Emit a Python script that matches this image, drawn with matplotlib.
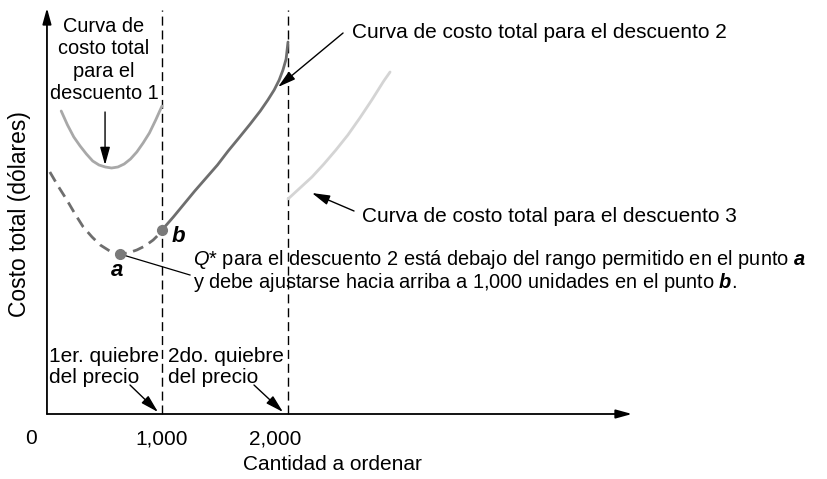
import matplotlib
matplotlib.use("Agg")
import matplotlib.pyplot as plt

plt.rcParams['font.family'] = ['Liberation Sans', 'DejaVu Sans']
plt.rcParams['mathtext.fontset'] = 'custom'
plt.rcParams['mathtext.rm'] = 'Liberation Sans'
plt.rcParams['mathtext.it'] = 'Liberation Sans:italic'
plt.rcParams['mathtext.bf'] = 'Liberation Sans:bold'
plt.rcParams['mathtext.bfit'] = 'Liberation Sans:bold:italic'

# ---- data (quantity, total cost) ----
d1_q = [200, 250, 300, 350, 400, 450, 500, 550, 600, 650, 700, 750, 800, 850, 900, 950, 1000]
d1_cost = [3030, 2890, 2770, 2680, 2600, 2530, 2490, 2470, 2460, 2470, 2500, 2550, 2620,
           2710, 2810, 2940, 3080]

d2_dash_q = [110, 175, 245, 310, 375, 445, 510, 585, 665, 730, 800, 865, 930, 970, 1000]
d2_dash_cost = [2420, 2280, 2140, 2000, 1870, 1770, 1690, 1630, 1600, 1610, 1640, 1680,
                1740, 1790, 1840]

d2_q = [1000, 1090, 1175, 1260, 1350, 1440, 1525, 1610, 1700, 1780, 1840, 1890, 1930,
        1960, 1985, 2000]
d2_cost = [1840, 1970, 2100, 2230, 2360, 2490, 2630, 2760, 2900, 3030, 3140, 3240, 3340,
           3440, 3550, 3720]

d3_q = [2000, 2095, 2190, 2285, 2380, 2475, 2570, 2665, 2760, 2810]
d3_cost = [2150, 2260, 2370, 2500, 2640, 2790, 2960, 3140, 3330, 3420]

point_a = (665, 1600)
point_b = (1000, 1840)

price_breaks = [1000, 2000]
tick_values = [0, 1000, 2000]
tick_labels = ['0', '1,000', '2,000']

# ---- figure ----
fig = plt.figure(figsize=(8.28, 4.79), dpi=100)
ax = fig.add_axes([0, 0, 1, 1])
ax.set_xlim(-285.7, 6285.7)
ax.set_ylim(-650, 4140)
ax.axis('off')

FS = 15
Y_AX = 87      # y-axis position in quantity units
X_END = 4730
Y_TOP = 4060

axis_arrow = dict(arrowstyle='-|>,head_length=0.8,head_width=0.22',
                  color='black', lw=1.3, shrinkA=0, shrinkB=0, mutation_scale=12)
ax.annotate('', xy=(Y_AX, Y_TOP), xytext=(Y_AX, 0), arrowprops=axis_arrow)
ax.annotate('', xy=(X_END, 0), xytext=(Y_AX, 0), arrowprops=axis_arrow)

# price-break dashed lines
for pb in price_breaks:
    ax.plot([pb, pb], [0, 4040], color='black', lw=1.0, ls=(0, (6.5, 3.5)))

# curves
ax.plot(d1_q, d1_cost, color='#a8a8a8', lw=2.0, solid_capstyle='round', solid_joinstyle='round')
ax.plot(d2_dash_q, d2_dash_cost, color='#6e6e6e', lw=2.0, ls=(0, (4, 2.4)))
ax.plot(d2_q, d2_cost, color='#6e6e6e', lw=2.0, solid_capstyle='round', solid_joinstyle='round')
ax.plot(d3_q, d3_cost, color='#d4d4d4', lw=2.0, solid_capstyle='round', solid_joinstyle='round')

ax.plot(*point_a, 'o', color='#7a7a7a', ms=7, zorder=5)
ax.plot(*point_b, 'o', color='#7a7a7a', ms=7, zorder=5)

arrow_kw = dict(arrowstyle='-|>,head_length=0.9,head_width=0.25', color='black',
                lw=1.0, shrinkA=0, shrinkB=0, mutation_scale=12)

# labels & annotations
ax.text(540, 3540, 'Curva de\ncosto total\npara el\ndescuento 1', ha='center', va='center',
        fontsize=14.4, linespacing=1.22)
ax.annotate('', xy=(548, 2490), xytext=(548, 3020), arrowprops=arrow_kw)

ax.text(2508, 3820, 'Curva de costo total para el descuento 2', ha='left', va='center', fontsize=FS)
ax.annotate('', xy=(1921, 3270), xytext=(2437, 3810), arrowprops=arrow_kw)

ax.text(2587, 1980, 'Curva de costo total para el descuento 3', ha='left', va='center', fontsize=FS)
ax.annotate('', xy=(2190, 2210), xytext=(2524, 2030), arrowprops=arrow_kw)

ax.plot([point_a[0], 1222], [point_a[1], 1390], color='black', lw=0.9)
ax.text(1246, 1430,
        r'$\it{Q}$* para el descuento 2 está debajo del rango permitido en el punto $\mathbfit{a}$'
        '\n' r'y debe ajustarse hacia arriba a 1,000 unidades en el punto $\mathbfit{b}$.',
        ha='left', va='center', fontsize=14.4, linespacing=1.05)

ax.text(643, 1430, 'a', ha='center', va='center', fontsize=FS + 1,
        fontweight='bold', fontstyle='italic')
ax.text(1127, 1780, 'b', ha='center', va='center', fontsize=FS + 1,
        fontweight='bold', fontstyle='italic')

ax.text(103, 470, '1er. quiebre\ndel precio', ha='left', va='center', fontsize=FS, linespacing=1.1)
ax.text(1048, 470, '2do. quiebre\ndel precio', ha='left', va='center', fontsize=FS, linespacing=1.1)
ax.annotate('', xy=(968, 20), xytext=(746, 290), arrowprops=arrow_kw)
ax.annotate('', xy=(1960, 20), xytext=(1730, 290), arrowprops=arrow_kw)

tick_offsets = [-5, 0, -13]
for v, lab, off in zip(tick_values, tick_labels, tick_offsets):
    ax.annotate(lab, xy=(v, -250), xytext=(off, 0), textcoords='offset pixels',
                ha='center', va='center', fontsize=FS)

ax.text(2349, -500, 'Cantidad a ordenar', ha='center', va='center', fontsize=FS)
ax.text(-127, 2000, 'Costo total (dólares)', ha='center', va='center', fontsize=16.5, rotation=90)

fig.savefig('out.png', dpi=100)
